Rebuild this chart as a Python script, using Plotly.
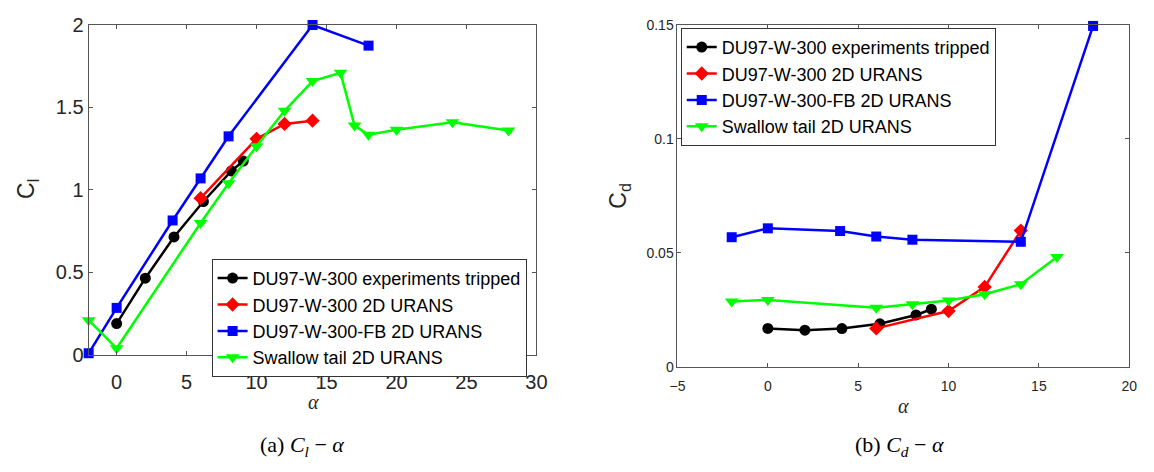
import plotly.graph_objects as go

# ---- lift / drag coefficient data (alpha in degrees) ----
exp_alpha = [0, 2.05, 4.1, 6.2, 8.2, 9.05]
exp_cl = [0.19, 0.465, 0.715, 0.93, 1.115, 1.175]
exp_cd = [0.0169, 0.0161, 0.0168, 0.0189, 0.0228, 0.0253]

urans_alpha = [6, 10, 12, 14]
urans_cl = [0.95, 1.31, 1.40, 1.42]
urans_cd = [0.0169, 0.0245, 0.0351, 0.0598]

fb_alpha = [-2, 0, 4, 6, 8, 14, 18]
fb_cl = [0.01, 0.285, 0.815, 1.07, 1.325, 2.0, 1.875]
fb_cd = [0.0569, 0.0608, 0.0596, 0.0572, 0.0558, 0.0549, 0.1496]

st_alpha_cl = [-2, 0, 6, 8, 10, 12, 14, 16, 17, 18, 20, 24, 28]
st_cl = [0.21, 0.04, 0.80, 1.04, 1.265, 1.48, 1.66, 1.71, 1.39, 1.335, 1.365, 1.41, 1.36]
st_alpha_cd = [-2, 0, 6, 8, 10, 12, 14, 16]
st_cd = [0.0287, 0.0294, 0.0259, 0.0275, 0.0291, 0.0319, 0.0363, 0.0482]

names = ["DU97-W-300 experiments tripped", "DU97-W-300 2D URANS",
         "DU97-W-300-FB 2D URANS", "Swallow tail 2D URANS"]
colors = ["#000000", "#ff0000", "#0000ff", "#00ff00"]
symbols = ["circle", "diamond", "square", "triangle-down"]
sizes = [11, 11, 10, 12]

left_series = [(exp_alpha, exp_cl), (urans_alpha, urans_cl), (fb_alpha, fb_cl), (st_alpha_cl, st_cl)]
right_series = [(exp_alpha, exp_cd), (urans_alpha, urans_cd), (fb_alpha, fb_cd), (st_alpha_cd, st_cd)]

fig = go.Figure()
for i, (xs, ys) in enumerate(left_series):
    fig.add_trace(go.Scatter(
        x=xs, y=ys, mode="lines+markers", name=names[i], cliponaxis=False,
        line=dict(color=colors[i], width=2.5),
        marker=dict(symbol=symbols[i], size=sizes[i], color=colors[i]),
        xaxis="x", yaxis="y", legend="legend"))
for i, (xs, ys) in enumerate(right_series):
    fig.add_trace(go.Scatter(
        x=xs, y=ys, mode="lines+markers", name=names[i], cliponaxis=False,
        line=dict(color=colors[i], width=2.5),
        marker=dict(symbol=symbols[i], size=sizes[i], color=colors[i]),
        xaxis="x2", yaxis="y2", legend="legend2"))

W, H = 1154, 472
tick_font_l = dict(family="Liberation Sans, Arial, sans-serif", size=20, color="#262626")
tick_font_r = dict(family="Liberation Sans, Arial, sans-serif", size=14, color="#262626")
axis_common = dict(showline=True, linecolor="#555555", linewidth=1, mirror="ticks",
                   ticks="inside", ticklen=4, tickcolor="#555555",
                   showgrid=False, zeroline=False)

legend_common = dict(
    font=dict(family="Liberation Sans, Arial, sans-serif", size=18, color="#000000"),
    bgcolor="#ffffff", bordercolor="#333333", borderwidth=1,
    xanchor="left", yanchor="top", tracegroupgap=0)

fig.update_layout(
    width=W, height=H, margin=dict(l=0, r=0, t=0, b=0),
    paper_bgcolor="#ffffff", plot_bgcolor="#ffffff",
    xaxis=dict(domain=[82 / W, 537.3 / W], range=[-2, 30], tickvals=[0, 5, 10, 15, 20, 25, 30],
               tickfont=tick_font_l, anchor="y", ticklabelstandoff=9, **axis_common),
    yaxis=dict(domain=[1 - 360.7 / H, 1 - 14.7 / H], range=[0, 2], tickvals=[0, 0.5, 1, 1.5, 2],
               ticktext=["0", "0.5", "1", "1.5", "2"],
               tickfont=tick_font_l, anchor="x", **axis_common),
    xaxis2=dict(domain=[680.7 / W, 1140 / W], range=[-5, 20], tickvals=[-5, 0, 5, 10, 15, 20],
                tickfont=tick_font_r, anchor="y2", ticklabelstandoff=6, **axis_common),
    yaxis2=dict(domain=[1 - 373.3 / H, 1 - 14.7 / H], range=[0, 0.15], tickvals=[0, 0.05, 0.1, 0.15],
                ticktext=["0", "0.05", "0.1", "0.15"],
                tickfont=tick_font_r, anchor="x2", **axis_common),
    legend=dict(x=207 / W, y=1 - 260 / H, **legend_common),
    legend2=dict(x=684 / W, y=1 - 17.7 / H, **legend_common),
    showlegend=True,
)

sans = "Liberation Sans, Arial, sans-serif"
annotations = [
    dict(x=20 / W, y=1 - 187 / H, text="C<sub>l</sub>", textangle=-90,
         font=dict(family=sans, size=23, color="#262626")),
    dict(x=622 / W, y=1 - 194 / H, text="C<sub>d</sub>", textangle=-90,
         font=dict(family=sans, size=23, color="#262626")),
    dict(x=311 / W, y=1 - 410 / H, text="<i>α</i>",
         font=dict(family="Liberation Serif, serif", size=20, color="#262626")),
    dict(x=910 / W, y=1 - 414 / H, text="<i>α</i>",
         font=dict(family="Liberation Serif, serif", size=20, color="#262626")),
    dict(x=299 / W, y=1 - 456 / H, text="(a) <i>C<sub>l</sub></i> − <i>α</i>",
         font=dict(family="Liberation Serif, serif", size=22, color="#000000")),
    dict(x=906 / W, y=1 - 456 / H, text="(b) <i>C<sub>d</sub></i> − <i>α</i>",
         font=dict(family="Liberation Serif, serif", size=22, color="#000000")),
]
for a in annotations:
    a.update(xref="paper", yref="paper", showarrow=False, xanchor="center", yanchor="middle")
fig.update_layout(annotations=annotations)

fig.write_html("out.html")
